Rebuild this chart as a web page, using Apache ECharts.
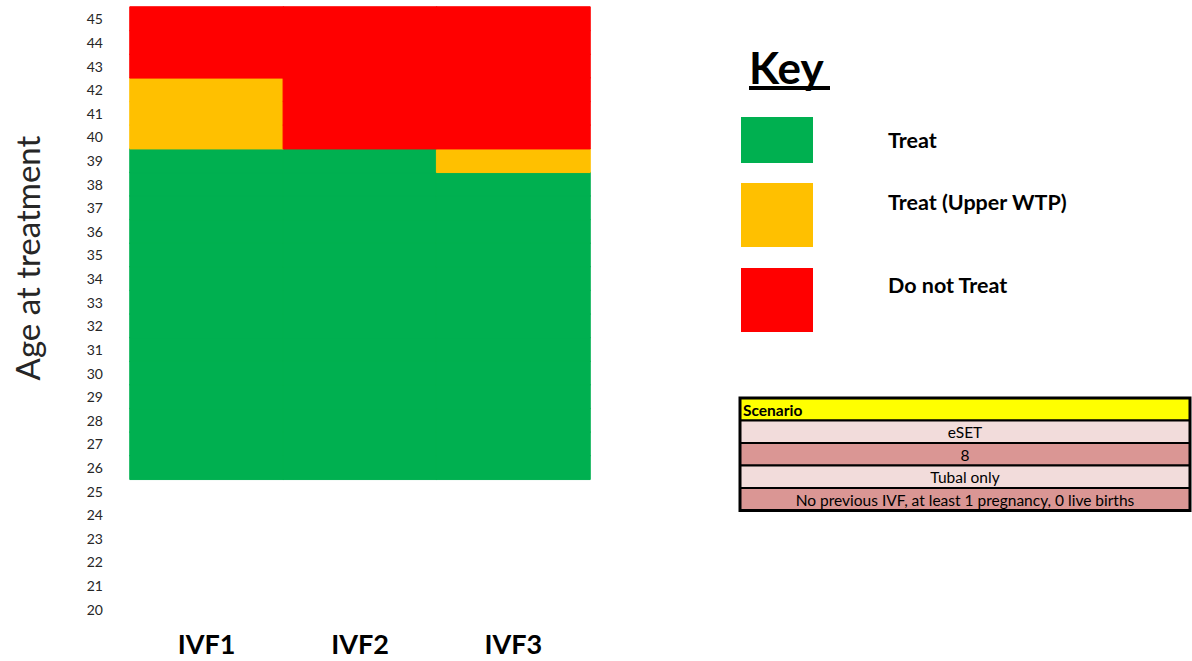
<!DOCTYPE html>
<html>
<head>
<meta charset="utf-8">
<title>Treatment decision by age and IVF cycle</title>
<script src="https://cdn.jsdelivr.net/npm/echarts@6/dist/echarts.min.js"></script>
<style>
  html, body { margin: 0; padding: 0; background: #ffffff; }
  #chart { width: 1192px; height: 661px; }
</style>
</head>
<body>
<div id="chart"></div>
<script>
// IVF cycles along the x axis
const cycles = ['IVF1', 'IVF2', 'IVF3'];

// Age tick labels on the y axis (20 to 45)
const ageLabels = ['20', '21', '22', '23', '24', '25', '26', '27', '28', '29', '30', '31', '32',
  '33', '34', '35', '36', '37', '38', '39', '40', '41', '42', '43', '44', '45'];

// Ages that have a decision (26 to 45)
const decisionAges = ['26', '27', '28', '29', '30', '31', '32', '33', '34', '35', '36', '37', '38',
  '39', '40', '41', '42', '43', '44', '45'];

// Decision categories, in key order
const decisions = ['Treat', 'Treat (Upper WTP)', 'Do not Treat'];

// Decision per age (26..45): 0 = Treat, 1 = Treat (Upper WTP), 2 = Do not Treat
const ivf1 = [0, 0, 0, 0, 0, 0, 0, 0, 0, 0, 0, 0, 0, 0, 1, 1, 1, 2, 2, 2];
const ivf2 = [0, 0, 0, 0, 0, 0, 0, 0, 0, 0, 0, 0, 0, 0, 2, 2, 2, 2, 2, 2];
const ivf3 = [0, 0, 0, 0, 0, 0, 0, 0, 0, 0, 0, 0, 0, 1, 2, 2, 2, 2, 2, 2];

// Scenario table rows
const scenarioTitle = 'Scenario';
const scenarioRows = ['eSET', '8', 'Tubal only', 'No previous IVF, at least 1 pregnancy, 0 live births'];

const decisionColors = ['#00b050', '#ffc000', '#ff0000'];
const font = 'Lato, "Liberation Sans", sans-serif';

// One heatmap series per decision so each keeps its own colour
const byCycle = [ivf1, ivf2, ivf3];
const series = decisions.map(function (name, d) {
  const cells = [];
  byCycle.forEach(function (codes, c) {
    codes.forEach(function (code, i) {
      if (code === d) cells.push([cycles[c], decisionAges[i], code]);
    });
  });
  return {
    name: name,
    type: 'heatmap',
    data: cells,
    // a same-colour border closes the hairline seams between cells
    itemStyle: { color: decisionColors[d], borderColor: decisionColors[d], borderWidth: 1 },
    emphasis: { disabled: true },
    silent: true
  };
});

// Key: swatches and labels
const keySwatches = [
  { y: 117, h: 46 },
  { y: 183, h: 64 },
  { y: 268, h: 64 }
];
const keyTextY = [140, 202, 285];
const keyGraphics = [
  { type: 'text', x: 749, y: 67, style: { text: 'Key', font: 'bold 44px ' + font, fill: '#000', verticalAlign: 'middle' } },
  { type: 'rect', shape: { x: 749, y: 86, width: 81, height: 4 }, style: { fill: '#000' } }
];
decisions.forEach(function (name, d) {
  keyGraphics.push({
    type: 'rect',
    shape: { x: 741, y: keySwatches[d].y, width: 72, height: keySwatches[d].h },
    style: { fill: decisionColors[d] }
  });
  keyGraphics.push({
    type: 'text', x: 888, y: keyTextY[d],
    style: { text: name, font: 'bold 21.5px ' + font, fill: '#000', verticalAlign: 'middle' }
  });
});

// Y axis title, rotated
const axisTitle = {
  type: 'text', x: 27, y: 258, rotation: Math.PI / 2,
  style: { text: 'Age at treatment', font: '33px ' + font, fill: '#262626', align: 'center', verticalAlign: 'middle' }
};

// Scenario table
const tableX = 740, tableW = 450, rowH = 22.5, tableTop = 398;
const rowFills = ['#ffff00', '#f2dcdb', '#da9694', '#f2dcdb', '#da9694'];
const tableGraphics = [];
[scenarioTitle].concat(scenarioRows).forEach(function (label, i) {
  const y = tableTop + i * rowH;
  tableGraphics.push({
    type: 'rect',
    shape: { x: tableX, y: y, width: tableW, height: rowH },
    style: { fill: rowFills[i], stroke: '#000', lineWidth: 2 }
  });
  tableGraphics.push({
    type: 'text',
    x: i === 0 ? tableX + 3 : tableX + tableW / 2,
    y: y + rowH / 2 + 0.5,
    style: {
      text: label,
      font: (i === 0 ? 'bold ' : '') + '15.5px ' + font,
      fill: '#000',
      align: i === 0 ? 'left' : 'center',
      verticalAlign: 'middle'
    }
  });
});
tableGraphics.push({
  type: 'rect',
  shape: { x: tableX, y: tableTop, width: tableW, height: rowH * 5 },
  style: { fill: 'none', stroke: '#000', lineWidth: 3 }
});

const chart = echarts.init(document.getElementById('chart'), null, { renderer: 'svg' });
chart.setOption({
  animation: false,
  backgroundColor: '#ffffff',
  grid: { left: 130, top: 7, width: 460, height: 614, containLabel: false },
  xAxis: {
    type: 'category',
    data: cycles,
    axisLine: { show: false },
    axisTick: { show: false },
    splitLine: { show: false },
    axisLabel: { margin: 9, fontFamily: font, fontWeight: 'bold', fontSize: 27, color: '#000' }
  },
  yAxis: {
    type: 'category',
    data: ageLabels,
    axisLine: { show: false },
    axisTick: { show: false },
    splitLine: { show: false },
    axisLabel: { margin: 27, fontFamily: font, fontSize: 14, color: '#262626' }
  },
  series: series,
  graphic: [axisTitle].concat(keyGraphics, tableGraphics)
});
</script>
</body>
</html>
